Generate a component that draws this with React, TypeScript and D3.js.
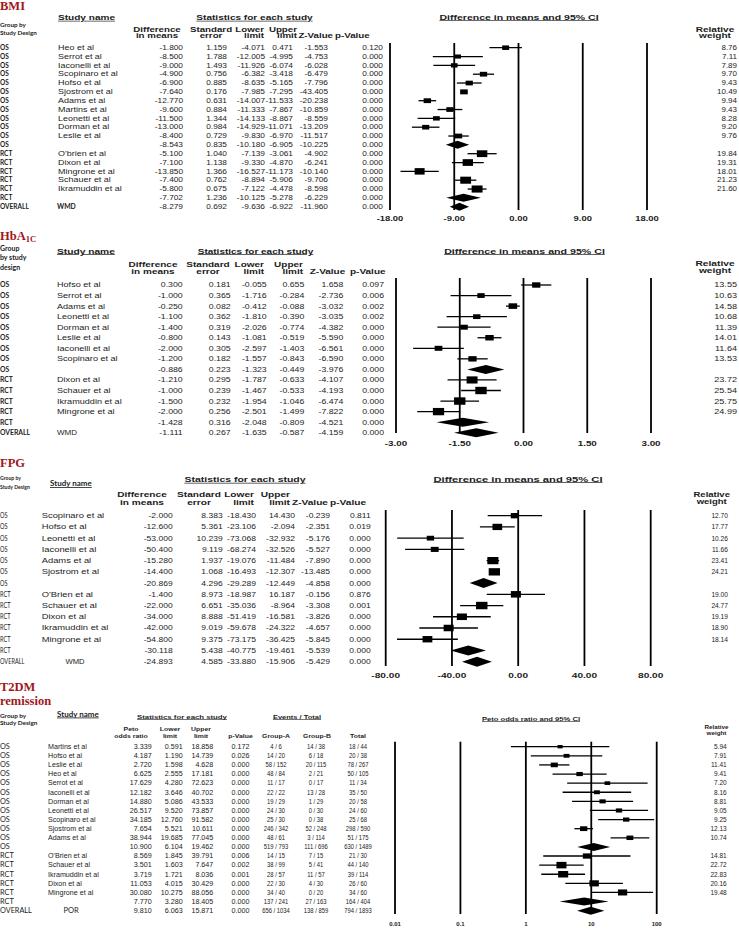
import * as d3 from 'd3';
import type { ReactNode } from 'react';

const ARIAL = "'Liberation Sans', Arial, Helvetica, sans-serif";
const LATO = "Lato, 'Noto Sans', sans-serif";
const SERIF = "'Liberation Serif', 'Times New Roman', serif";
const RED = '#a0171c';
const INK = '#1c1c1c';

// ---------- BMI ----------
const bmiGroups = ['OS', 'OS', 'OS', 'OS', 'OS', 'OS', 'OS', 'OS', 'OS', 'OS', 'OS', 'OS', 'RCT', 'RCT', 'RCT', 'RCT', 'RCT', 'RCT', 'OVERALL'];
const bmiNames = ['Heo et al', 'Serrot et al', 'Iaconelli et al', 'Scopinaro et al', 'Hofso et al', 'Sjostrom et al', 'Adams et al', 'Martins et al', 'Leonetti et al', 'Dorman et al', 'Leslie et al', '', "O'brien et al", 'Dixon et al', 'Mingrone et al', 'Schauer et al', 'Ikramuddin et al', '', 'WMD'];
const bmiDiff = [-1.8, -8.5, -9.0, -4.9, -6.9, -7.64, -12.77, -9.6, -11.5, -13.0, -8.4, -8.543, -5.1, -7.1, -13.85, -7.4, -5.8, -7.702, -8.279];
const bmiSE = [1.159, 1.788, 1.493, 0.756, 0.885, 0.176, 0.631, 0.884, 1.344, 0.984, 0.729, 0.835, 1.04, 1.138, 1.366, 0.762, 0.675, 1.236, 0.692];
const bmiLower = [-4.071, -12.005, -11.926, -6.382, -8.635, -7.985, -14.007, -11.333, -14.133, -14.929, -9.83, -10.18, -7.139, -9.33, -16.527, -8.894, -7.122, -10.125, -9.636];
const bmiUpper = [0.471, -4.995, -6.074, -3.418, -5.165, -7.295, -11.533, -7.867, -8.867, -11.071, -6.97, -6.905, -3.061, -4.87, -11.173, -5.906, -4.478, -5.278, -6.922];
const bmiZ = [-1.553, -4.753, -6.028, -6.479, -7.796, -43.405, -20.238, -10.859, -8.559, -13.209, -11.517, -10.225, -4.902, -6.241, -10.14, -9.706, -8.598, -6.229, -11.96];
const bmiP = [0.12, 0, 0, 0, 0, 0, 0, 0, 0, 0, 0, 0, 0, 0, 0, 0, 0, 0, 0];
const bmiWeight = [8.76, 7.11, 7.89, 9.7, 9.43, 10.49, 9.94, 9.43, 8.28, 9.2, 9.76, null, 19.84, 19.31, 18.01, 21.23, 21.6, null, null];
const bmiTicks = [-18, -9, 0, 9, 18];

// ---------- HbA1c ----------
const hbGroups = ['OS', 'OS', 'OS', 'OS', 'OS', 'OS', 'OS', 'OS', 'OS', 'RCT', 'RCT', 'RCT', 'RCT', 'RCT', 'OVERALL'];
const hbNames = ['Hofso et al', 'Serrot et al', 'Adams et al', 'Leonetti et al', 'Dorman et al', 'Leslie et al', 'Iaconelli et al', 'Scopinaro et al', '', 'Dixon et al', 'Schauer et al', 'Ikramuddin et al', 'Mingrone et al', '', 'WMD'];
const hbDiff = [0.3, -1.0, -0.25, -1.1, -1.4, -0.8, -2.0, -1.2, -0.886, -1.21, -1.0, -1.5, -2.0, -1.428, -1.111];
const hbSE = [0.181, 0.365, 0.082, 0.362, 0.319, 0.143, 0.305, 0.182, 0.223, 0.295, 0.239, 0.232, 0.256, 0.316, 0.267];
const hbLower = [-0.055, -1.716, -0.412, -1.81, -2.026, -1.081, -2.597, -1.557, -1.323, -1.787, -1.467, -1.954, -2.501, -2.048, -1.635];
const hbUpper = [0.655, -0.284, -0.088, -0.39, -0.774, -0.519, -1.403, -0.843, -0.449, -0.633, -0.533, -1.046, -1.499, -0.809, -0.587];
const hbZ = [1.658, -2.736, -3.032, -3.035, -4.382, -5.59, -6.561, -6.59, -3.976, -4.107, -4.193, -6.474, -7.822, -4.521, -4.159];
const hbP = [0.097, 0.006, 0.002, 0.002, 0, 0, 0, 0, 0, 0, 0, 0, 0, 0, 0];
const hbWeight = [13.55, 10.63, 14.58, 10.68, 11.39, 14.01, 11.64, 13.53, null, 23.72, 25.54, 25.75, 24.99, null, null];
const hbTicks = [-3, -1.5, 0, 1.5, 3];

// ---------- FPG ----------
const fpgGroups = ['OS', 'OS', 'OS', 'OS', 'OS', 'OS', 'OS', 'RCT', 'RCT', 'RCT', 'RCT', 'RCT', 'RCT', 'OVERALL'];
const fpgNames = ['Scopinaro et al', 'Hofso et al', 'Leonetti et al', 'Iaconelli et al', 'Adams et al', 'Sjostrom et al', '', "O'Brien et al", 'Schauer et al', 'Dixon et al', 'Ikramuddin et al', 'Mingrone et al', '', 'WMD'];
const fpgDiff = [-2.0, -12.6, -53.0, -50.4, -15.28, -14.4, -20.869, -1.4, -22.0, -34.0, -42.0, -54.8, -30.118, -24.893];
const fpgSE = [8.383, 5.361, 10.239, 9.119, 1.937, 1.068, 4.296, 8.973, 6.651, 8.888, 9.019, 9.375, 5.438, 4.585];
const fpgLower = [-18.43, -23.106, -73.068, -68.274, -19.076, -16.493, -29.289, -18.987, -35.036, -51.419, -59.678, -73.175, -40.775, -33.88];
const fpgUpper = [14.43, -2.094, -32.932, -32.526, -11.484, -12.307, -12.449, 16.187, -8.964, -16.581, -24.322, -36.425, -19.461, -15.906];
const fpgZ = [-0.239, -2.351, -5.176, -5.527, -7.89, -13.485, -4.858, -0.156, -3.308, -3.826, -4.657, -5.845, -5.539, -5.429];
const fpgP = [0.811, 0.019, 0, 0, 0, 0, 0, 0.876, 0.001, 0, 0, 0, 0, 0];
const fpgWeight = [12.7, 17.77, 10.26, 11.66, 23.41, 24.21, null, 19.0, 24.77, 19.19, 18.9, 18.14, null, null];
const fpgTicks = [-80, -40, 0, 40, 80];

// ---------- T2DM remission ----------
const t2Groups = ['OS', 'OS', 'OS', 'OS', 'OS', 'OS', 'OS', 'OS', 'OS', 'OS', 'OS', 'OS', 'RCT', 'RCT', 'RCT', 'RCT', 'RCT', 'RCT', 'OVERALL'];
const t2Names = ['Martins et al', 'Hofso et al', 'Leslie et al', 'Heo et al', 'Serrot et al', 'Iaconelli et al', 'Dorman et al', 'Leonetti et al', 'Scopinaro et al', 'Sjostrom et al', 'Adams et al', '', "O'Brien et al", 'Schauer et al', 'Ikramuddin et al', 'Dixon et al', 'Mingrone et al', '', 'POR'];
const t2OR = [3.339, 4.187, 2.72, 6.625, 17.629, 12.182, 14.88, 26.517, 34.185, 7.654, 38.944, 10.9, 8.569, 3.501, 3.719, 11.053, 30.08, 7.77, 9.81];
const t2Lower = [0.591, 1.19, 1.598, 2.555, 4.28, 3.646, 5.086, 9.52, 12.76, 5.521, 19.685, 6.104, 1.845, 1.603, 1.721, 4.015, 10.275, 3.28, 6.063];
const t2Upper = [18.858, 14.739, 4.628, 17.181, 72.623, 40.702, 43.533, 73.857, 91.582, 10.611, 77.045, 19.462, 39.791, 7.647, 8.036, 30.429, 88.056, 18.405, 15.871];
const t2P = [0.172, 0.026, 0, 0, 0, 0, 0, 0, 0, 0, 0, 0, 0.006, 0.002, 0.001, 0, 0, 0, 0];
const t2GroupA = ['4 / 6', '14 / 20', '58 / 152', '48 / 84', '11 / 17', '22 / 22', '19 / 29', '24 / 30', '25 / 30', '246 / 342', '48 / 61', '519 / 793', '14 / 15', '38 / 99', '28 / 57', '22 / 30', '34 / 40', '137 / 241', '656 / 1034'];
const t2GroupB = ['14 / 38', '6 / 18', '20 / 115', '2 / 21', '0 / 17', '13 / 28', '1 / 29', '0 / 30', '0 / 38', '52 / 248', '3 / 114', '111 / 696', '7 / 15', '5 / 41', '11 / 57', '4 / 30', '0 / 20', '27 / 163', '138 / 859'];
const t2Total = ['18 / 44', '20 / 38', '78 / 267', '50 / 105', '11 / 34', '35 / 50', '20 / 58', '24 / 60', '25 / 68', '298 / 590', '51 / 175', '630 / 1489', '21 / 30', '44 / 140', '39 / 114', '26 / 60', '34 / 60', '164 / 404', '794 / 1893'];
const t2Weight = [5.94, 7.91, 11.41, 9.41, 7.2, 8.16, 8.81, 9.05, 9.25, 12.13, 10.74, null, 14.81, 22.72, 22.83, 20.16, 19.48, null, null];
const t2Ticks = [0.01, 0.1, 1, 10, 100];
const t2TickLabels = ['0.01', '0.1', '1', '10', '100'];

const f3 = (v: number) => v.toFixed(3);

type Anchor = 'start' | 'middle' | 'end';

function T({ x, y, a = 'start', s = 6.5, w = 400, sx = 1, f = ARIAL, c = INK, u = false, children }: {
  x: number; y: number; a?: Anchor; s?: number; w?: number; sx?: number; f?: string; c?: string; u?: boolean; children: ReactNode;
}) {
  return (
    <text
      transform={`translate(${x},${y}) scale(${sx},1)`}
      textAnchor={a}
      fontSize={s}
      fontWeight={w}
      fontFamily={f}
      fill={c}
      style={u ? { textDecoration: 'underline' } : undefined}
    >
      {children}
    </text>
  );
}

interface Col {
  vals: string[];
  vx: number;
  va?: Anchor;
  vsx?: number;
  head: [string, string];
  hx: number;
  ha: Anchor;
}

interface TableProps {
  ys: number[];
  groups: string[];
  names: string[];
  cols: Col[];
  weights: (number | null)[];
  gFont: { s: number; w: number; sx: number };
  nameX: number;
  size: number;
  sx: number;
  nsx: number;
  label: { x: number; a: Anchor; f: string; w: number; s: number; sx: number };
  weightX: number;
  weightSx: number;
  heads: { y1: number; y2: number; s: number; sx: number };
}

function Table({ ys, groups, names, cols, weights, gFont, nameX, size, sx, nsx, label, weightX, weightSx, heads }: TableProps) {
  const off = size * 0.35;
  const last = names.length - 1;
  return (
    <g>
      {cols.map((c, j) => (
        <g key={`h${j}`}>
          {c.head[0] && <T x={c.hx} y={heads.y1} a={c.ha} s={heads.s} w={700} sx={heads.sx}>{c.head[0]}</T>}
          {c.head[1] && <T x={c.hx} y={heads.y2} a={c.ha} s={heads.s} w={700} sx={heads.sx}>{c.head[1]}</T>}
        </g>
      ))}
      {ys.map((y, i) => (
        <g key={i}>
          <T x={0} y={y + off} s={gFont.s} w={gFont.w} sx={gFont.sx} f={LATO}>{groups[i]}</T>
          {i === last ? (
            <T x={label.x} y={y + off} a={label.a} s={label.s} w={label.w} sx={label.sx} f={label.f}>{names[i]}</T>
          ) : (
            names[i] && <T x={nameX} y={y + off} s={size} sx={nsx}>{names[i]}</T>
          )}
          {cols.map((c, j) => (
            <T key={j} x={c.vx} y={y + off} a={c.va ?? 'end'} s={size} sx={c.vsx ?? sx}>{c.vals[i]}</T>
          ))}
          {weights[i] != null && (
            <T x={weightX} y={y + off} a="end" s={size} sx={weightSx}>{(weights[i] as number).toFixed(2)}</T>
          )}
        </g>
      ))}
    </g>
  );
}

interface ForestProps {
  x: (v: number) => number;
  ys: number[];
  est: number[];
  lo: number[];
  hi: number[];
  wt: (number | null)[];
  ticks: number[];
  labels: string[];
  top: number;
  bottom: number;
  labelY: number;
  k: number;
  diamondH: number;
  tickSize: number;
  tickSx: number;
}

function Forest({ x, ys, est, lo, hi, wt, ticks, labels, top, bottom, labelY, k, diamondH, tickSize, tickSx }: ForestProps) {
  return (
    <g>
      {ticks.map((t) => (
        <line key={`v${t}`} x1={x(t)} x2={x(t)} y1={top} y2={bottom} stroke="#000" strokeWidth={1.8} />
      ))}
      {ticks.map((t, i) => (
        <T key={`l${t}`} x={x(t)} y={labelY} a="middle" s={tickSize} w={700} sx={tickSx}>{labels[i]}</T>
      ))}
      {ys.map((y, i) => {
        const w = wt[i];
        if (w == null) {
          const h = diamondH / 2;
          const path = d3.path();
          path.moveTo(x(lo[i]), y);
          path.lineTo(x(est[i]), y - h);
          path.lineTo(x(hi[i]), y);
          path.lineTo(x(est[i]), y + h);
          path.closePath();
          return <path key={i} d={path.toString()} fill="#000" />;
        }
        const bw = k * Math.sqrt(w);
        const bh = bw * 0.65;
        return (
          <g key={i}>
            <line x1={x(lo[i])} x2={x(hi[i])} y1={y} y2={y} stroke="#000" strokeWidth={1.3} />
            <rect x={x(est[i]) - bw / 2} y={y - bh / 2} width={bw} height={bh} fill="#000" />
          </g>
        );
      })}
    </g>
  );
}

const rowsAt = (first: number, step: number, n: number) => d3.range(n).map((i) => first + i * step);

export default function App() {
  // BMI
  const bmiYs = rowsAt(47.7, 8.833, bmiNames.length);
  const bmiX = d3.scaleLinear().domain([-18, 18]).range([390, 647]);
  const bmiCols: Col[] = [
    { vals: bmiDiff.map(f3), vx: 183, head: ['Difference', 'in means'], hx: 157, ha: 'middle' },
    { vals: bmiSE.map(f3), vx: 227, head: ['Standard', 'error'], hx: 211, ha: 'middle' },
    { vals: bmiLower.map(f3), vx: 265, head: ['Lower', 'limit'], hx: 264, ha: 'end' },
    { vals: bmiUpper.map(f3), vx: 293, head: ['Upper', 'limit'], hx: 297, ha: 'end' },
    { vals: bmiZ.map(f3), vx: 328, head: ['', 'Z-Value'], hx: 333, ha: 'end' },
    { vals: bmiP.map(f3), vx: 383, head: ['', 'p-Value'], hx: 335, ha: 'start' },
  ];

  // HbA1c
  const hbYs = rowsAt(285, 10.55, hbNames.length);
  const hbX = d3.scaleLinear().domain([-3, 3]).range([396, 651]);
  const hbCols: Col[] = [
    { vals: hbDiff.map(f3), vx: 182.7, head: ['Difference', 'in means'], hx: 153, ha: 'middle' },
    { vals: hbSE.map(f3), vx: 230.7, head: ['Standard', 'error'], hx: 208, ha: 'middle' },
    { vals: hbLower.map(f3), vx: 266.7, head: ['Lower', 'limit'], hx: 264, ha: 'end' },
    { vals: hbUpper.map(f3), vx: 304.3, head: ['Upper', 'limit'], hx: 303, ha: 'end' },
    { vals: hbZ.map(f3), vx: 343.3, head: ['', 'Z-Value'], hx: 327.5, ha: 'middle' },
    { vals: hbP.map(f3), vx: 384, head: ['', 'p-Value'], hx: 350, ha: 'start' },
  ];

  // FPG
  const fpgYs = rowsAt(515.7, 11.23, fpgNames.length);
  const fpgX = d3.scaleLinear().domain([-80, 80]).range([385.7, 650.7]);
  const fpgCols: Col[] = [
    { vals: fpgDiff.map(f3), vx: 172.7, head: ['Difference', 'in means'], hx: 142, ha: 'middle' },
    { vals: fpgSE.map(f3), vx: 222.7, head: ['Standard', 'error'], hx: 199, ha: 'middle' },
    { vals: fpgLower.map(f3), vx: 256, head: ['Lower', 'limit'], hx: 254, ha: 'end' },
    { vals: fpgUpper.map(f3), vx: 295, head: ['Upper', 'limit'], hx: 290, ha: 'end' },
    { vals: fpgZ.map(f3), vx: 330, head: ['', 'Z-Value'], hx: 328, ha: 'end' },
    { vals: fpgP.map(f3), vx: 370.7, head: ['', 'p-Value'], hx: 330, ha: 'start' },
  ];

  // T2DM
  const t2Ys = rowsAt(746.7, 9.11, t2Names.length);
  const t2X = d3.scaleLog().domain([0.01, 100]).range([395, 656.7]);
  const t2Cols: Col[] = [
    { vals: t2OR.map(f3), vx: 151.7, head: ['Peto', 'odds ratio'], hx: 131, ha: 'middle' },
    { vals: t2Lower.map(f3), vx: 182.7, head: ['Lower', 'limit'], hx: 170, ha: 'middle' },
    { vals: t2Upper.map(f3), vx: 213.3, head: ['Upper', 'limit'], hx: 201, ha: 'middle' },
    { vals: t2P.map(f3), vx: 249.5, head: ['', 'p-Value'], hx: 240.5, ha: 'middle' },
    { vals: t2GroupA, vx: 276, va: 'middle', vsx: 0.9, head: ['', 'Group-A'], hx: 276, ha: 'middle' },
    { vals: t2GroupB, vx: 316, va: 'middle', vsx: 0.9, head: ['', 'Group-B'], hx: 317, ha: 'middle' },
    { vals: t2Total, vx: 358, va: 'middle', vsx: 0.9, head: ['', 'Total'], hx: 358, ha: 'middle' },
  ];

  return (
    <svg
      width={739}
      height={930}
      viewBox="0 0 739 930"
      style={{ position: 'absolute', left: 0, top: 0, background: '#fff' }}
    >
      {/* BMI */}
      <T x={0} y={10} s={12.5} w={700} f={SERIF} c={RED}>BMI</T>
      <T x={0} y={26.5} s={6.3} w={700} f={LATO}>Group by</T>
      <T x={0} y={34.5} s={6.3} w={700} f={LATO}>Study Design</T>
      <T x={58} y={20} s={6.5} w={700} sx={1.55} u>Study name</T>
      <T x={254.5} y={20} a="middle" s={6.5} w={700} sx={1.55} u>Statistics for each study</T>
      <T x={519} y={19.5} a="middle" s={6.5} w={700} sx={1.62} u>Difference in means and 95% CI</T>
      <T x={715} y={31.7} a="middle" s={6.5} w={700} sx={1.55}>Relative</T>
      <T x={715} y={37.7} a="middle" s={6.5} w={700} sx={1.55}>weight</T>
      <Table
        ys={bmiYs} groups={bmiGroups} names={bmiNames} cols={bmiCols} weights={bmiWeight}
        gFont={{ s: 6.5, w: 700, sx: 1 }} nameX={58} size={6.5} sx={1.28} nsx={1.38}
        label={{ x: 57, a: 'start', f: LATO, w: 700, s: 6.8, sx: 1 }}
        weightX={737} weightSx={1.23} heads={{ y1: 32, y2: 37.5, s: 6.5, sx: 1.5 }}
      />
      <Forest
        x={bmiX} ys={bmiYs} est={bmiDiff} lo={bmiLower} hi={bmiUpper} wt={bmiWeight}
        ticks={bmiTicks} labels={bmiTicks.map((t) => t.toFixed(2))}
        top={43} bottom={210} labelY={220.5} k={2.35} diamondH={8} tickSize={6.5} tickSx={1.45}
      />

      {/* HbA1c */}
      <text x={0} y={240} fontFamily={SERIF} fontWeight={700} fontSize={12.5} fill={RED}>
        HbA<tspan fontSize={8.5} dy={2}>1C</tspan>
      </text>
      <T x={0} y={250.5} s={7} w={700} f={LATO}>Group</T>
      <T x={0} y={260.2} s={7} w={700} f={LATO}>by study</T>
      <T x={0} y={270} s={7} w={700} f={LATO}>design</T>
      <T x={57} y={253.5} s={7} w={700} sx={1.46} u>Study name</T>
      <T x={255.5} y={253.5} a="middle" s={7} w={700} sx={1.43} u>Statistics for each study</T>
      <T x={524.5} y={253.5} a="middle" s={7} w={700} sx={1.52} u>Difference in means and 95% CI</T>
      <T x={715} y={265.5} a="middle" s={6.8} w={700} sx={1.5}>Relative</T>
      <T x={715} y={272.5} a="middle" s={6.8} w={700} sx={1.5}>weight</T>
      <Table
        ys={hbYs} groups={hbGroups} names={hbNames} cols={hbCols} weights={hbWeight}
        gFont={{ s: 6.8, w: 700, sx: 1 }} nameX={57} size={7} sx={1.25} nsx={1.3}
        label={{ x: 57, a: 'start', f: ARIAL, w: 400, s: 7, sx: 1.15 }}
        weightX={737} weightSx={1.3} heads={{ y1: 266.5, y2: 274, s: 7, sx: 1.43 }}
      />
      <Forest
        x={hbX} ys={hbYs} est={hbDiff} lo={hbLower} hi={hbUpper} wt={hbWeight}
        ticks={hbTicks} labels={hbTicks.map((t) => t.toFixed(2))}
        top={278} bottom={433} labelY={446} k={2.25} diamondH={9} tickSize={6.8} tickSx={1.45}
      />

      {/* FPG */}
      <T x={0} y={467} s={12.5} w={700} f={SERIF} c={RED}>FPG</T>
      <T x={0} y={480} s={5.8} w={700} sx={0.88} f={LATO}>Group by</T>
      <T x={0} y={489.3} s={5.8} w={700} sx={0.88} f={LATO}>Study Design</T>
      <T x={50} y={486} s={8} w={700} f={LATO} u>Study name</T>
      <T x={245} y={482} a="middle" s={7} w={700} sx={1.5} u>Statistics for each study</T>
      <T x={518} y={481.5} a="middle" s={7} w={700} sx={1.6} u>Difference in means and 95% CI</T>
      <T x={711.7} y={496.5} a="middle" s={6.8} w={700} sx={1.4}>Relative</T>
      <T x={711.7} y={504} a="middle" s={6.8} w={700} sx={1.4}>weight</T>
      <Table
        ys={fpgYs} groups={fpgGroups} names={fpgNames} cols={fpgCols} weights={fpgWeight}
        gFont={{ s: 6.6, w: 400, sx: 0.85 }} nameX={41.7} size={7} sx={1.22} nsx={1.34}
        label={{ x: 75, a: 'middle', f: ARIAL, w: 400, s: 7, sx: 1.1 }}
        weightX={728} weightSx={0.95} heads={{ y1: 497, y2: 505, s: 7, sx: 1.45 }}
      />
      <Forest
        x={fpgX} ys={fpgYs} est={fpgDiff} lo={fpgLower} hi={fpgUpper} wt={fpgWeight}
        ticks={fpgTicks} labels={fpgTicks.map((t) => t.toFixed(2))}
        top={510} bottom={666} labelY={677.5} k={2.3} diamondH={10} tickSize={7} tickSx={1.45}
      />

      {/* T2DM remission */}
      <T x={0} y={691} s={12.5} w={700} f={SERIF} c={RED}>T2DM</T>
      <T x={0} y={705} s={12.5} w={700} f={SERIF} c={RED}>remission</T>
      <T x={0} y={717.5} s={6.4} w={700} f={LATO}>Group by</T>
      <T x={0} y={725} s={6.4} w={700} f={LATO}>Study Design</T>
      <T x={57} y={716.5} s={8} w={700} f={LATO} u>Study name</T>
      <T x={182} y={718.5} a="middle" s={6} w={700} sx={1.3} u>Statistics for each study</T>
      <T x={297} y={718.5} a="middle" s={6} w={700} sx={1.25} u>Events / Total</T>
      <T x={531} y={720.5} a="middle" s={6} w={700} sx={1.27} u>Peto odds ratio and 95% CI</T>
      <T x={716.5} y={728.5} a="middle" s={6} w={700} sx={1.05}>Relative</T>
      <T x={716.5} y={735} a="middle" s={6} w={700} sx={1.05}>weight</T>
      <Table
        ys={t2Ys} groups={t2Groups} names={t2Names} cols={t2Cols} weights={t2Weight}
        gFont={{ s: 7.3, w: 400, sx: 1 }} nameX={48} size={6.5} sx={1.1} nsx={1.1}
        label={{ x: 71, a: 'middle', f: LATO, w: 400, s: 7.5, sx: 1 }}
        weightX={726.7} weightSx={1.0} heads={{ y1: 730.5, y2: 737.5, s: 6, sx: 1.15 }}
      />
      <Forest
        x={t2X} ys={t2Ys} est={t2OR} lo={t2Lower} hi={t2Upper} wt={t2Weight}
        ticks={t2Ticks} labels={t2TickLabels}
        top={741.7} bottom={914} labelY={925.5} k={2.1} diamondH={8} tickSize={6} tickSx={1}
      />
    </svg>
  );
}
